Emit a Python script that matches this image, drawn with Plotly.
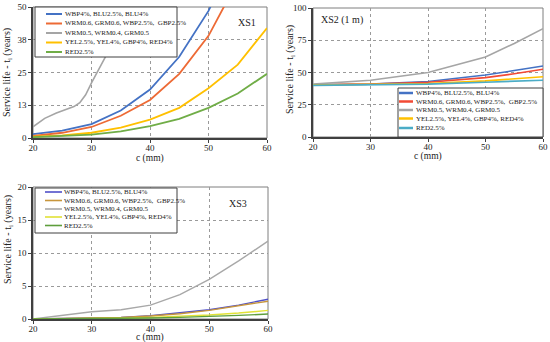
import plotly.graph_objects as go

# ---------------- data ----------------
names = ["WBP4%, BLU2.5%, BLU4%",
         "WRM0.6, GRM0.6, WBP2.5%,  GBP2.5%",
         "WRM0.5, WRM0.4, GRM0.5",
         "YEL2.5%, YEL4%, GBP4%, RED4%",
         "RED2.5%"]

# XS1
xs1_c_std = [20, 25, 30, 35, 40, 45, 50, 55, 60]
xs1_blue = [1.5, 2.8, 5.3, 10.5, 18.5, 31, 48.5, 72, None]
xs1_orange = [0.8, 2.0, 4.2, 8.5, 14.5, 24.5, 39, 60, None]
xs1_gray_c = [20, 21, 22, 24, 26, 27, 28, 29, 30, 31, 32, 33, 34, 35, 36, 37]
xs1_gray = [4.3, 6.0, 7.5, 9.5, 11, 12, 13.5, 16.5, 21, 25, 29, 33.5, 38, 43, 49, 55]
xs1_yellow = [0.5, 1.0, 2.0, 4.0, 7.0, 11.5, 19, 28, 42]
xs1_green = [0.3, 0.7, 1.3, 2.5, 4.5, 7.3, 11.5, 17, 24.5]

# XS2 (1 m)
xs2_c = [20, 30, 40, 50, 55, 60]
xs2_blue = [40.5, 41, 43, 48, 51.5, 55]
xs2_red = [40.5, 41, 42.5, 46, 49, 52.5]
xs2_gray = [41, 44, 50, 62, 72.5, 84]
xs2_yellow = [40.3, 40.7, 41.5, 43.5, 45, 46.7]
xs2_teal = [40, 40.5, 41, 42.5, 43.2, 44]

# XS3
xs3_c = [20, 30, 35, 40, 45, 50, 55, 60]
xs3_blue = [0, 0.1, 0.25, 0.5, 0.9, 1.4, 2.1, 3.0]
xs3_brown = [0, 0.1, 0.22, 0.45, 0.8, 1.3, 1.95, 2.7]
xs3_gray = [0, 1.1, 1.4, 2.1, 3.7, 6.0, 8.8, 11.8]
xs3_yellow = [0, 0.05, 0.12, 0.25, 0.4, 0.6, 0.9, 1.3]
xs3_green = [0, 0.02, 0.07, 0.15, 0.25, 0.37, 0.55, 0.75]

c_ticks = [20, 30, 40, 50, 60]
xs1_yticks = [0, 12.5, 25, 37.5, 50]
xs1_ytext = ["0", "13", "25", "38", "50"]
xs2_yticks = [0, 25, 50, 75, 100]
xs3_yticks = [0, 5, 10, 15, 20]

col1 = ["#4472C4", "#ED6A35", "#A5A5A5", "#FFC000", "#70AD47"]
col2 = ["#4472C4", "#F24A35", "#A5A5A5", "#FFC000", "#4BACC6"]
col3 = ["#5050C8", "#C8963C", "#A8A8A8", "#E2E236", "#5E9E3C"]

W, H = 550, 342
def px(x): return x / W
def py(y): return 1 - y / H

FONT = "Liberation Serif"
fig = go.Figure()

def add(xa, ya, x, y, color, width):
    fig.add_trace(go.Scatter(x=x, y=y, mode="lines", xaxis=xa, yaxis=ya,
                             line=dict(color=color, width=width), showlegend=False,
                             connectgaps=False))

# XS1
add("x", "y", xs1_c_std, xs1_blue, col1[0], 1.8)
add("x", "y", xs1_c_std, xs1_orange, col1[1], 1.8)
add("x", "y", xs1_gray_c, xs1_gray, col1[2], 1.6)
add("x", "y", xs1_c_std, xs1_yellow, col1[3], 1.8)
add("x", "y", xs1_c_std, xs1_green, col1[4], 1.8)
# XS2
for ys, cc in zip([xs2_blue, xs2_red, xs2_gray, xs2_yellow, xs2_teal], col2):
    add("x2", "y2", xs2_c, ys, cc, 1.6)
# XS3
for ys, cc in zip([xs3_blue, xs3_brown, xs3_gray, xs3_yellow, xs3_green], col3):
    add("x3", "y3", xs3_c, ys, cc, 1.4)

axis_common = dict(showline=True, linecolor="#404040", linewidth=1.5, mirror=False,
                   ticks="outside", ticklen=3, tickcolor="#404040", automargin=False,
                   showgrid=True, gridcolor="#9a9a9a", griddash="dot", gridwidth=1,
                   zeroline=False, tickfont=dict(family=FONT, size=9, color="#222"))

doms = {
    "1": dict(x=[px(33), px(267)], y=[py(138), py(7)]),
    "2": dict(x=[px(313), px(543)], y=[py(137), py(8)]),
    "3": dict(x=[px(33), px(268)], y=[py(319), py(187)]),
}
layout_axes = {}
for k, (ax, ay) in {"1": ("xaxis", "yaxis"), "2": ("xaxis2", "yaxis2"), "3": ("xaxis3", "yaxis3")}.items():
    xid = "x" if k == "1" else "x" + k
    yid = "y" if k == "1" else "y" + k
    layout_axes[ax] = dict(axis_common, domain=doms[k]["x"], anchor=yid, range=[20, 60],
                           tickvals=c_ticks, ticklabelstandoff=-3)
    layout_axes[ay] = dict(axis_common, domain=doms[k]["y"], anchor=xid)
layout_axes["yaxis"].update(range=[0, 50], tickvals=xs1_yticks, ticktext=xs1_ytext)
layout_axes["yaxis2"].update(range=[0, 100], tickvals=xs2_yticks)
layout_axes["yaxis3"].update(range=[0, 20], tickvals=xs3_yticks)

shapes = []
annotations = []
# frames (top/right thin)
for k in ["1", "2", "3"]:
    xid = "x" if k == "1" else "x" + k
    yid = "y" if k == "1" else "y" + k
    shapes.append(dict(type="rect", xref=f"{xid} domain", yref=f"{yid} domain",
                       x0=0, x1=1, y0=0, y1=1, line=dict(color="#7f7f7f", width=1), layer="below"))

def legend(box, ys, sx0, sx1, tx, colors, lw, fsize=7):
    x0, y0, x1, y1 = box
    shapes.append(dict(type="rect", xref="paper", yref="paper", x0=px(x0), x1=px(x1),
                       y0=py(y1), y1=py(y0), line=dict(color="#404040", width=1),
                       fillcolor="white", layer="above"))
    for name, yy, cc in zip(names, ys, colors):
        shapes.append(dict(type="line", xref="paper", yref="paper", x0=px(sx0), x1=px(sx1),
                           y0=py(yy), y1=py(yy), line=dict(color=cc, width=lw), layer="above"))
        annotations.append(dict(text=name, x=px(tx), y=py(yy), xref="paper", yref="paper",
                                xanchor="left", yanchor="middle", showarrow=False,
                                font=dict(family=FONT, size=fsize, color="#222")))

legend((35, 7, 177, 57), [14, 23.5, 33, 42.5, 52], 46, 62, 63, col1, 2)
legend((398, 88, 543, 137), [93, 101.5, 110, 118.5, 128], 399, 413, 414, col2, 2.5)
legend((35, 188, 177, 233), [192, 200.5, 209, 217, 225.5], 45, 62, 62, col3, 1.6)

# panel labels
for txt, x, y in [("XS1", 247, 22), ("XS2 (1 m)", 342, 20), ("XS3", 238, 203)]:
    annotations.append(dict(text=txt, x=px(x), y=py(y), xref="paper", yref="paper",
                            xanchor="center", yanchor="middle", showarrow=False,
                            font=dict(family=FONT, size=10, color="#222")))

# axis titles
ytitle = "Service life - t<sub>i</sub> (years)"
for x, y in [(150, 158), (428, 157), (150, 337)]:
    annotations.append(dict(text="c (mm)", x=px(x), y=py(y), xref="paper", yref="paper",
                            xanchor="center", yanchor="middle", showarrow=False,
                            font=dict(family=FONT, size=9.5, color="#222")))
for x, y in [(8, 73), (290, 70), (8, 240)]:
    annotations.append(dict(text=ytitle, x=px(x), y=py(y), xref="paper", yref="paper",
                            xanchor="center", yanchor="middle", showarrow=False, textangle=-90,
                            font=dict(family=FONT, size=10, color="#222")))

fig.update_layout(width=W, height=H, margin=dict(l=0, r=0, t=0, b=0),
                  paper_bgcolor="white", plot_bgcolor="white",
                  font=dict(family=FONT, size=9, color="#222"),
                  shapes=shapes, annotations=annotations, showlegend=False, **layout_axes)

fig.write_html("out.html", config={"displayModeBar": False},
               post_script="document.body.style.margin='0';")
